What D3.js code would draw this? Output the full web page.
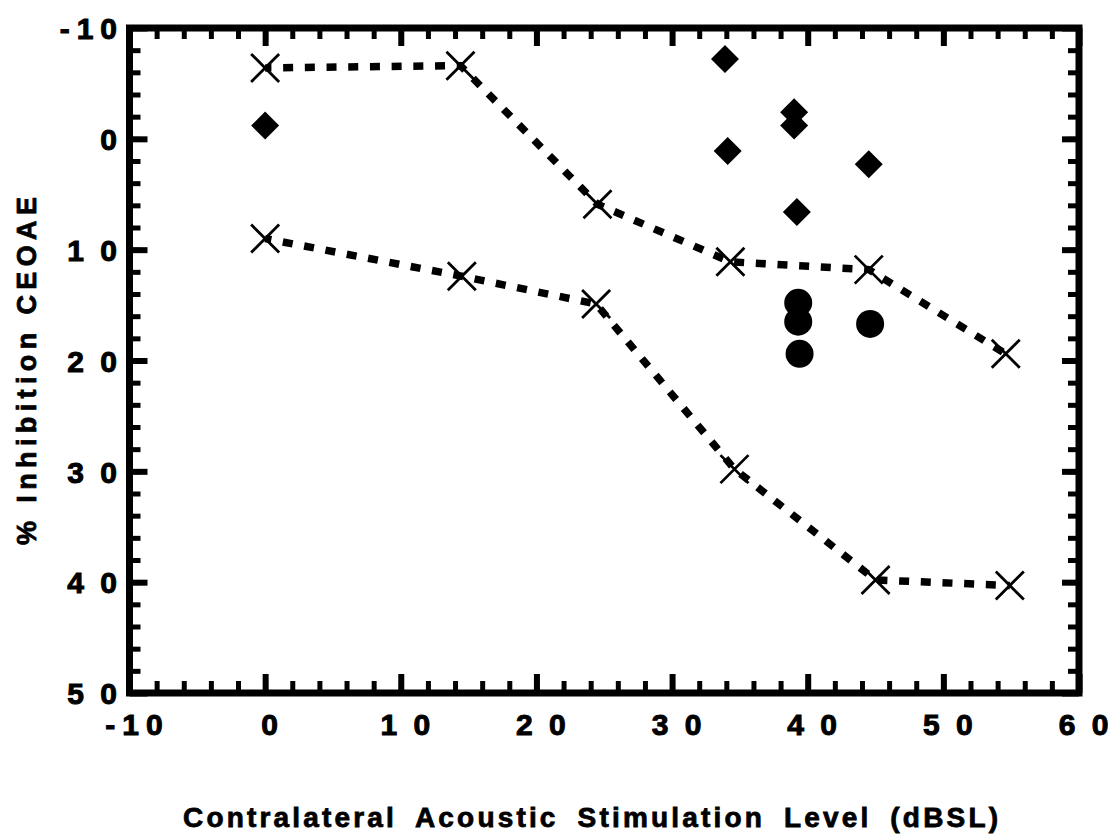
<!DOCTYPE html>
<html>
<head>
<meta charset="utf-8">
<script src="https://cdn.jsdelivr.net/npm/d3@7"></script>
<style>
	body { margin: 0; background: #fff; }
	text { font-family: "Liberation Sans", Arial, Helvetica, sans-serif; font-weight: bold; fill: #000; stroke: #000; }
</style>
</head>
<body>
<svg id="chart"></svg>
<script>

// upper dashed series (X markers)
const levelsA = [0, 14.4, 24.5, 34.3, 44.5, 54.6]
const inhibA = [-6.4, -6.6, 5.9, 11.1, 11.8, 19.4]

// lower dashed series (X markers)
const levelsB = [0, 14.5, 24.4, 34.6, 45, 54.9]
const inhibB = [9, 12.4, 14.9, 29.8, 39.8, 40.3]

// filled diamonds
const diamondLevels = [0, 33.9, 39, 39, 34.1, 44.5, 39.2]
const diamondInhib = [-1.2, -7.2, -2.4, -1.2, 1.1, 2.3, 6.6]

// filled circles
const circleLevels = [39.3, 39.3, 39.4, 44.6]
const circleInhib = [14.8, 16.5, 19.4, 16.7]

const xTicks = [-10, 0, 10, 20, 30, 40, 50, 60]
const yTicks = [-10, 0, 10, 20, 30, 40, 50]

const xTitle = "Contralateral Acoustic Stimulation Level (dBSL)"
const yTitle = "% Inhibition CEOAE"

var width = 1114, height = 834

var svg = d3.select("#chart")
	.attr("width", width)
	.attr("height", height)

svg.append("rect").attr("width", width).attr("height", height).attr("fill", "#fff")

var x_scale = d3.scaleLinear().domain([-10, 60]).range([129.5, 1079])
var y_scale = d3.scaleLinear().domain([-10, 50]).range([28, 693])

const xMinor = d3.range(-10, 60.01, 2)
const yMinor = d3.range(-10, 50.01, 2)

// positive labels are spaced out digit by digit ("1 0"), negatives are tight
const fmt = d => d < 0 ? "-" + Math.abs(d) : ("" + d).split("").join(" ")
const trail = d => d < 0 ? 7 : 0

// ticks on all four sides, pointing inward
function addTicks (axis, transform, vals, size, sw) {
	const g = svg.append("g")
		.attr("transform", transform)
		.call(axis.tickValues(vals).tickSizeInner(-size).tickSizeOuter(0).tickFormat(""))
	g.select(".domain").remove()
	g.selectAll("line").attr("stroke", "#000").attr("stroke-width", sw)
	return g
}

const bottomY = y_scale(50), topY = y_scale(-10)
const leftX = x_scale(-10), rightX = x_scale(60)

addTicks(d3.axisBottom(x_scale), "translate(0," + bottomY + ")", xMinor, 12, 5)
addTicks(d3.axisTop(x_scale), "translate(0," + topY + ")", xMinor, 11, 5)
addTicks(d3.axisLeft(y_scale), "translate(" + leftX + ",0)", yMinor, 11, 5)
addTicks(d3.axisRight(y_scale), "translate(" + rightX + ",0)", yMinor, 11, 5)

const xb = addTicks(d3.axisBottom(x_scale), "translate(0," + bottomY + ")", xTicks, 19, 6)
addTicks(d3.axisTop(x_scale), "translate(0," + topY + ")", xTicks, 18, 6)
const yl = addTicks(d3.axisLeft(y_scale), "translate(" + leftX + ",0)", yTicks, 18, 6)
addTicks(d3.axisRight(y_scale), "translate(" + rightX + ",0)", yTicks, 17, 6)

// tick labels
xb.selectAll(".tick text")
	.text(fmt)
	.attr("y", 42)
	.attr("dy", null)
	.attr("dx", d => trail(d) / 2 + 4)
	.attr("fill", "#000")
	.style("font-size", "30px")
	.style("stroke-width", "1px")
	.style("letter-spacing", d => trail(d) + "px")
	.style("word-spacing", "8px")
	.style("text-anchor", "middle")

yl.selectAll(".tick text")
	.text(fmt)
	.attr("x", d => 117 - leftX + trail(d))
	.attr("dy", "0.36em")
	.attr("fill", "#000")
	.style("font-size", "30px")
	.style("stroke-width", "1px")
	.style("letter-spacing", d => trail(d) + "px")
	.style("word-spacing", "8px")
	.style("text-anchor", "end")

// frame
svg.append("rect")
	.attr("x", leftX)
	.attr("y", topY)
	.attr("width", rightX - leftX)
	.attr("height", bottomY - topY)
	.attr("fill", "none")
	.attr("stroke", "#000")
	.attr("stroke-width", 7)

// dashed lines
const line = d3.line()
	.x(d => x_scale(d[0]))
	.y(d => y_scale(d[1]))

const seriesA = levelsA.map((v, i) => [v, inhibA[i]])
const seriesB = levelsB.map((v, i) => [v, inhibB[i]])

svg.selectAll(".series")
	.data([seriesA, seriesB])
	.enter()
	.append("path")
	.attr("class", "series")
	.attr("d", line)
	.attr("fill", "none")
	.attr("stroke", "#000")
	.attr("stroke-width", 7.5)
	.attr("stroke-dasharray", "10,11.7")
	.attr("stroke-dashoffset", 3.7)

// X markers
svg.selectAll(".xmark")
	.data(seriesA.concat(seriesB))
	.enter()
	.append("path")
	.attr("class", "xmark")
	.attr("transform", d => "translate(" + x_scale(d[0]) + "," + y_scale(d[1]) + ")")
	.attr("d", "M-14,-14L14,14M-14,14L14,-14")
	.attr("stroke", "#000")
	.attr("stroke-width", 2.8)
	.attr("fill", "none")

// diamonds
svg.selectAll(".diamond")
	.data(diamondLevels.map((v, i) => [v, diamondInhib[i]]))
	.enter()
	.append("path")
	.attr("class", "diamond")
	.attr("transform", d => "translate(" + x_scale(d[0]) + "," + y_scale(d[1]) + ")")
	.attr("d", "M0,-14L14,0L0,14L-14,0Z")
	.attr("fill", "#000")

// circles
svg.selectAll(".dot")
	.data(circleLevels.map((v, i) => [v, circleInhib[i]]))
	.enter()
	.append("circle")
	.attr("class", "dot")
	.attr("cx", d => x_scale(d[0]))
	.attr("cy", d => y_scale(d[1]))
	.attr("r", 14)
	.attr("fill", "#000")

// axis titles
svg.append("text")
	.attr("x", 183)
	.attr("y", 827)
	.attr("textLength", 815)
	.attr("lengthAdjust", "spacing")
	.style("font-size", "28px")
	.style("stroke-width", "0.8px")
	.style("word-spacing", "8px")
	.text(xTitle)

svg.append("text")
	.attr("transform", "translate(36,545) rotate(-90)")
	.attr("textLength", 348)
	.attr("lengthAdjust", "spacing")
	.style("font-size", "27px")
	.style("stroke-width", "0.8px")
	.text(yTitle)

</script>
</body>
</html>
